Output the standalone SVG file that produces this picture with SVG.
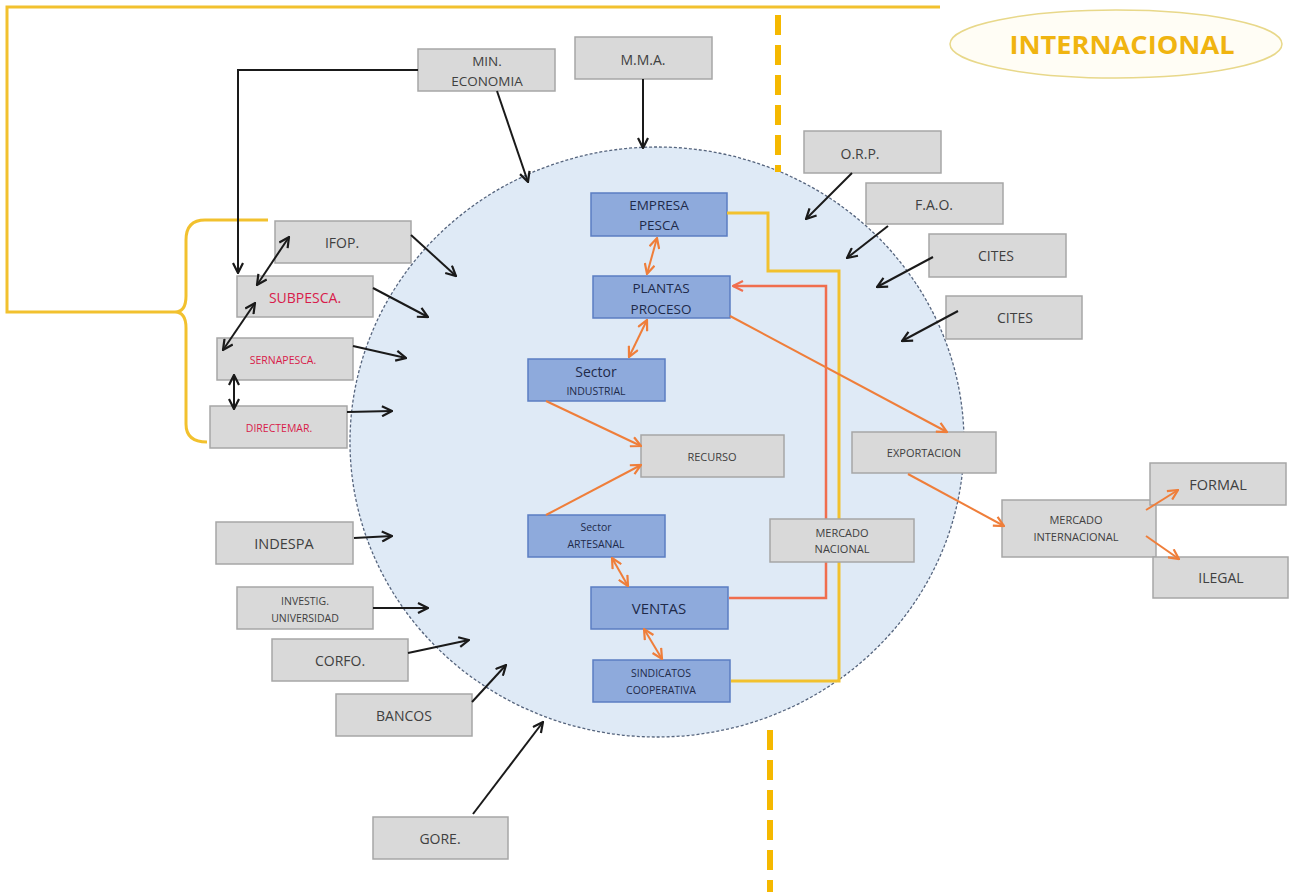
<svg xmlns="http://www.w3.org/2000/svg" width="1289" height="892" viewBox="0 0 1289 892">
<style>
.g rect{fill:#d9d9d9;stroke:#a6a6a6;stroke-width:1.5}
.b rect{fill:#8eaadc;stroke:#5b7dc2;stroke-width:1.5}
text{font-family:"Open Sans","Liberation Sans",sans-serif;text-anchor:middle}
.g text{fill:#404040}
.b text{fill:#1f2a4a}
.red text{fill:#d81b4a}
.blk{fill:none;stroke:#1a1a1a;stroke-width:2}
.org{fill:none;stroke:#ef7e3a;stroke-width:2}
.rorg{fill:none;stroke:#f06e4e;stroke-width:2.5}
.yel{fill:none;stroke:#f2c12e;stroke-width:3}
</style>
<defs>
<marker id="ab" viewBox="0 0 12 12" refX="11" refY="6" markerWidth="12" markerHeight="12" markerUnits="userSpaceOnUse" orient="auto-start-reverse"><path d="M1,1 L11,6 L1,11" fill="none" stroke="#1a1a1a" stroke-width="2.2"/></marker>
<marker id="ao" viewBox="0 0 12 12" refX="11" refY="6" markerWidth="12" markerHeight="12" markerUnits="userSpaceOnUse" orient="auto-start-reverse"><path d="M1,1 L11,6 L1,11" fill="none" stroke="#ef7e3a" stroke-width="2.2"/></marker>
<marker id="ar" viewBox="0 0 12 12" refX="11" refY="6" markerWidth="12" markerHeight="12" markerUnits="userSpaceOnUse" orient="auto-start-reverse"><path d="M1,1 L11,6 L1,11" fill="none" stroke="#f06e4e" stroke-width="2.2"/></marker>
</defs>
<rect width="1289" height="892" fill="#ffffff"/>

<g id="scope">
<ellipse cx="657" cy="442" rx="307" ry="295" fill="#dfeaf6" stroke="#56657e" stroke-width="1.3" stroke-dasharray="3 2"/>
</g>

<g id="frame">
<path class="yel" d="M940,7 L7,7 L7,312 L175,312"/>
<path class="yel" d="M268,220 L205,220 Q186,220 186,240 L186,296 Q186,312 175,312 Q186,312 186,328 L186,424 Q186,442 207,442"/>
<line x1="778" y1="15" x2="778" y2="172" stroke="#f5b800" stroke-width="6" stroke-dasharray="20 10"/>
<line x1="770" y1="730" x2="770" y2="892" stroke="#f5b800" stroke-width="6" stroke-dasharray="20 10"/>
</g>

<g id="internacional">
<ellipse cx="1116" cy="44" rx="166" ry="34" fill="#fffdf5" stroke="#e8d88a" stroke-width="1.5"/>
<text x="1122" y="54" font-size="25" font-weight="bold" fill="#f0b410" textLength="225" lengthAdjust="spacingAndGlyphs">INTERNACIONAL</text>
</g>

<g id="min-economia" class="g"><rect x="418" y="49" width="137" height="42"/><text x="487" y="66" font-size="13.5">MIN.</text><text x="487" y="86" font-size="13.5">ECONOMIA</text></g>
<g id="mma" class="g"><rect x="575" y="37" width="137" height="42"/><text x="643" y="65" font-size="14">M.M.A.</text></g>
<g id="orp" class="g"><rect x="804" y="131" width="137" height="42"/><text x="860" y="159" font-size="14">O.R.P.</text></g>
<g id="fao" class="g"><rect x="866" y="183" width="137" height="41"/><text x="934" y="210" font-size="14">F.A.O.</text></g>
<g id="cites1" class="g"><rect x="929" y="234" width="137" height="43"/><text x="996" y="261" font-size="14">CITES</text></g>
<g id="cites2" class="g"><rect x="946" y="296" width="136" height="43"/><text x="1015" y="323" font-size="14">CITES</text></g>
<g id="ifop" class="g"><rect x="275" y="221" width="136" height="42"/><text x="342" y="248" font-size="14">IFOP.</text></g>
<g id="subpesca" class="g red"><rect x="237" y="276" width="136" height="41"/><text x="305" y="303" font-size="14">SUBPESCA.</text></g>
<g id="sernapesca" class="g red"><rect x="217" y="338" width="136" height="42"/><text x="283" y="364" font-size="10.5">SERNAPESCA.</text></g>
<g id="directemar" class="g red"><rect x="210" y="406" width="137" height="42"/><text x="279" y="432" font-size="10.5">DIRECTEMAR.</text></g>
<g id="indespa" class="g"><rect x="216" y="522" width="137" height="42"/><text x="284" y="549" font-size="14.5">INDESPA</text></g>
<g id="investig" class="g"><rect x="237" y="587" width="136" height="42"/><text x="305" y="605" font-size="10.5">INVESTIG.</text><text x="305" y="622" font-size="10.5">UNIVERSIDAD</text></g>
<g id="corfo" class="g"><rect x="272" y="639" width="136" height="42"/><text x="340" y="666" font-size="14">CORFO.</text></g>
<g id="bancos" class="g"><rect x="336" y="694" width="136" height="42"/><text x="404" y="721" font-size="14">BANCOS</text></g>
<g id="gore" class="g"><rect x="373" y="817" width="135" height="42"/><text x="440" y="844" font-size="14">GORE.</text></g>
<g id="recurso" class="g"><rect x="641" y="435" width="143" height="42"/><text x="712" y="461" font-size="11">RECURSO</text></g>
<g id="exportacion" class="g"><rect x="852" y="432" width="144" height="41"/><text x="924" y="457" font-size="11">EXPORTACION</text></g>
<g id="mercado-internacional" class="g"><rect x="1002" y="500" width="154" height="57"/><text x="1076" y="524" font-size="11">MERCADO</text><text x="1076" y="541" font-size="11">INTERNACIONAL</text></g>
<g id="formal" class="g"><rect x="1150" y="463" width="136" height="42"/><text x="1218" y="490" font-size="14.5">FORMAL</text></g>
<g id="ilegal" class="g"><rect x="1153" y="557" width="135" height="41"/><text x="1221" y="583" font-size="14">ILEGAL</text></g>

<g id="empresa-pesca" class="b"><rect x="591" y="193" width="136" height="43"/><text x="659" y="210" font-size="13.5">EMPRESA</text><text x="659" y="230" font-size="13.5">PESCA</text></g>
<g id="plantas-proceso" class="b"><rect x="593" y="276" width="137" height="42"/><text x="661" y="293" font-size="13.5">PLANTAS</text><text x="661" y="314" font-size="13.5">PROCESO</text></g>
<g id="sector-industrial" class="b"><rect x="528" y="359" width="137" height="42"/><text x="596" y="377" font-size="14">Sector</text><text x="596" y="395" font-size="10.5">INDUSTRIAL</text></g>
<g id="sector-artesanal" class="b"><rect x="528" y="515" width="137" height="42"/><text x="596" y="531" font-size="10.5">Sector</text><text x="596" y="548" font-size="10.5">ARTESANAL</text></g>
<g id="ventas" class="b"><rect x="591" y="587" width="137" height="42"/><text x="659" y="614" font-size="15">VENTAS</text></g>
<g id="sindicatos" class="b"><rect x="593" y="660" width="137" height="42"/><text x="661" y="677" font-size="10.5">SINDICATOS</text><text x="661" y="694" font-size="10.5">COOPERATIVA</text></g>

<g id="connectors">
<path class="blk" d="M418,70 L238,70 L238,273" marker-end="url(#ab)"/>
<line class="blk" x1="497" y1="91" x2="528" y2="182" marker-end="url(#ab)"/>
<line class="blk" x1="643" y1="79" x2="643" y2="148" marker-end="url(#ab)"/>
<line class="blk" x1="852" y1="173" x2="806" y2="219" marker-end="url(#ab)"/>
<line class="blk" x1="888" y1="226" x2="847" y2="258" marker-end="url(#ab)"/>
<line class="blk" x1="933" y1="257" x2="877" y2="287" marker-end="url(#ab)"/>
<line class="blk" x1="958" y1="311" x2="902" y2="341" marker-end="url(#ab)"/>
<line class="blk" x1="411" y1="235" x2="456" y2="276" marker-end="url(#ab)"/>
<line class="blk" x1="373" y1="288" x2="428" y2="317" marker-end="url(#ab)"/>
<line class="blk" x1="353" y1="346" x2="406" y2="358" marker-end="url(#ab)"/>
<line class="blk" x1="347" y1="412" x2="392" y2="411" marker-end="url(#ab)"/>
<line class="blk" x1="289" y1="237" x2="257" y2="285" marker-start="url(#ab)" marker-end="url(#ab)"/>
<line class="blk" x1="255" y1="303" x2="223" y2="350" marker-start="url(#ab)" marker-end="url(#ab)"/>
<line class="blk" x1="234" y1="375" x2="234" y2="409" marker-start="url(#ab)" marker-end="url(#ab)"/>
<line class="blk" x1="354" y1="538" x2="392" y2="536" marker-end="url(#ab)"/>
<line class="blk" x1="373" y1="608" x2="428" y2="608" marker-end="url(#ab)"/>
<line class="blk" x1="408" y1="653" x2="469" y2="640" marker-end="url(#ab)"/>
<line class="blk" x1="472" y1="702" x2="506" y2="665" marker-end="url(#ab)"/>
<line class="blk" x1="473" y1="814" x2="543" y2="722" marker-end="url(#ab)"/>

<path class="yel" d="M727,213 L768,213 L768,271 L839,271 L839,681 L731,681"/>
<path class="rorg" d="M729,598 L826,598 L826,286 L733,286" marker-end="url(#ar)"/>
<line class="org" x1="657" y1="238" x2="647" y2="274" marker-start="url(#ao)" marker-end="url(#ao)"/>
<line class="org" x1="647" y1="320" x2="629" y2="357" marker-start="url(#ao)" marker-end="url(#ao)"/>
<line class="org" x1="546" y1="401" x2="641" y2="446" marker-end="url(#ao)"/>
<line class="org" x1="546" y1="515" x2="641" y2="465" marker-end="url(#ao)"/>
<line class="org" x1="730" y1="316" x2="947" y2="432" marker-end="url(#ao)"/>
<line class="org" x1="908" y1="474" x2="1004" y2="526" marker-end="url(#ao)"/>
<line class="org" x1="1146" y1="510" x2="1178" y2="490" marker-end="url(#ao)"/>
<line class="org" x1="1146" y1="536" x2="1179" y2="559" marker-end="url(#ao)"/>
<line class="org" x1="612" y1="558" x2="628" y2="586" marker-start="url(#ao)" marker-end="url(#ao)"/>
<line class="org" x1="644" y1="629" x2="662" y2="659" marker-start="url(#ao)" marker-end="url(#ao)"/>
</g>

<g id="mercado-nacional" class="g"><rect x="770" y="519" width="144" height="43"/><text x="842" y="537" font-size="11">MERCADO</text><text x="842" y="553" font-size="11">NACIONAL</text></g>
</svg>
